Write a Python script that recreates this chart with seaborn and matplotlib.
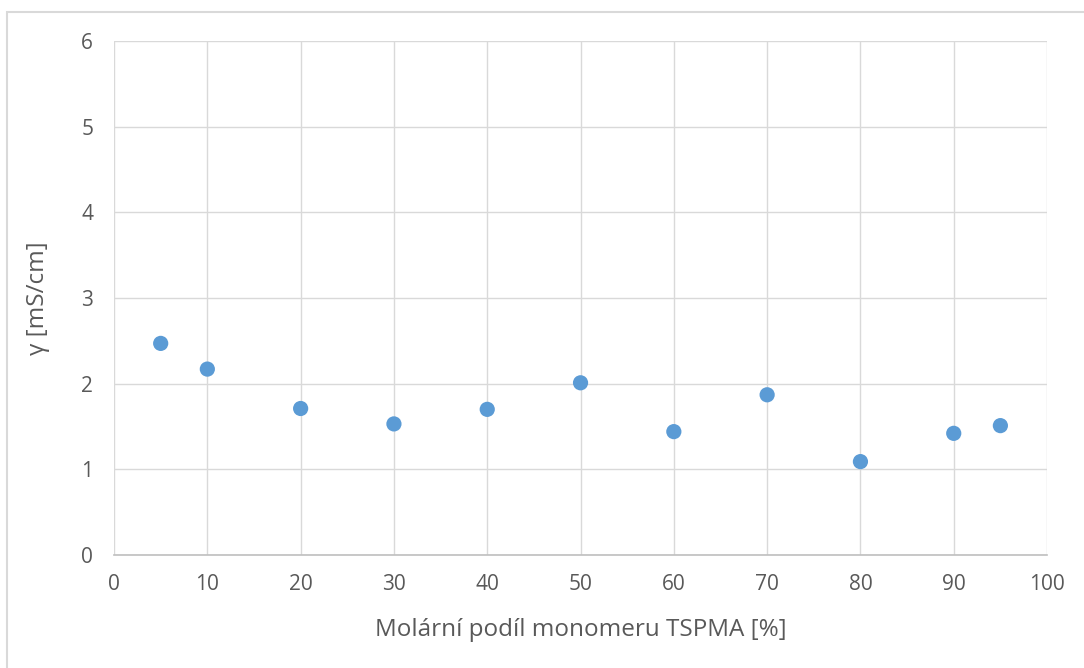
import matplotlib
matplotlib.use('Agg')
import matplotlib.pyplot as plt
import pandas as pd
import seaborn as sns
from matplotlib.patches import Rectangle

tspma = [5, 10, 20, 30, 40, 50, 60, 70, 80, 90, 95]
gamma = [2.47, 2.17, 1.71, 1.53, 1.70, 2.01, 1.44, 1.87, 1.09, 1.42, 1.51]
x_ticks = [0, 10, 20, 30, 40, 50, 60, 70, 80, 90, 100]
y_ticks = [0, 1, 2, 3, 4, 5, 6]

df = pd.DataFrame({'tspma': tspma, 'gamma': gamma})

sns.set_style('white')
plt.rcParams['font.family'] = ['Open Sans', 'DejaVu Sans']

fig = plt.figure(figsize=(10.84, 6.68), dpi=100)
ax = fig.add_axes([0.1052, 0.1692, 0.8607, 0.7694])

sns.scatterplot(data=df, x='tspma', y='gamma', ax=ax, color='#5B9BD5',
                s=120, edgecolor='none', zorder=3)

ax.set_xlim(0, 100)
ax.set_ylim(0, 6)
ax.set_xticks(x_ticks)
ax.set_yticks(y_ticks)
ax.grid(True, color='#d9d9d9', linewidth=1.0)
ax.set_axisbelow(True)
for side in ['top', 'right', 'left']:
    ax.spines[side].set_visible(False)
ax.spines['bottom'].set_color('#bfbfbf')
ax.spines['bottom'].set_linewidth(1.2)
ax.tick_params(axis='both', length=0, labelsize=15, labelcolor='#595959')
ax.tick_params(axis='x', pad=14)
ax.tick_params(axis='y', pad=15)

ax.set_xlabel('Molární podíl monomeru TSPMA [%]', fontsize=17.5, color='#595959')
ax.set_ylabel('γ [mS/cm]', fontsize=17.5, color='#595959')
ax.xaxis.set_label_coords(0.5, -0.146)
ax.xaxis.label.set_va('center')
ax.yaxis.set_label_coords(-0.0815, 0.5)
ax.yaxis.label.set_va('center')

# chart-area border (only top and left visible in the reference)
fig.patches.append(Rectangle((0.006, -0.1), 1.2, 1.082, transform=fig.transFigure,
                             fill=False, edgecolor='#d9d9d9', linewidth=1.5))

fig.savefig('out.png', dpi=100)
